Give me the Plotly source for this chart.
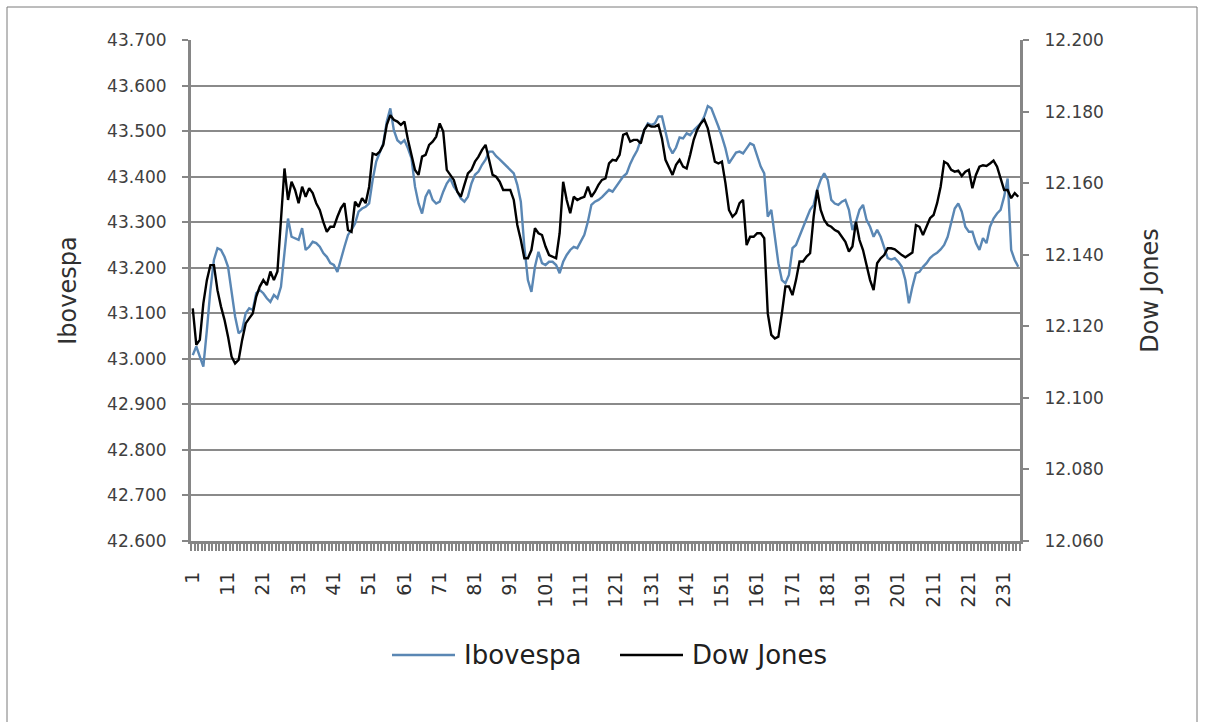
import plotly.graph_objects as go

# Trading days (categories)
days = list(range(1, 236))

x_tick_values = [1, 11, 21, 31, 41, 51, 61, 71, 81, 91, 101, 111, 121, 131, 141, 151,
                 161, 171, 181, 191, 201, 211, 221, 231]
x_tick_labels = ["1", "11", "21", "31", "41", "51", "61", "71", "81", "91", "101", "111",
                 "121", "131", "141", "151", "161", "171", "181", "191", "201", "211", "221", "231"]

ibovespa = [
    43008, 43027, 43005, 42983, 43063, 43151, 43217, 43243, 43239, 43224,
    43202, 43151, 43093, 43056, 43063, 43100, 43111, 43107, 43144, 43151,
    43144, 43133, 43125, 43140, 43133, 43158, 43239, 43308, 43268, 43265,
    43261, 43287, 43239, 43246, 43257, 43254, 43246, 43232, 43224, 43210,
    43206, 43191, 43221, 43246, 43272, 43283, 43297, 43323, 43330, 43334,
    43341, 43393, 43433, 43455, 43473, 43521, 43550, 43502, 43480, 43473,
    43480, 43462, 43440, 43378, 43341, 43319, 43356, 43371, 43349,
    43341, 43345, 43367, 43385, 43396, 43378, 43367, 43352, 43345, 43356,
    43385, 43404, 43411, 43426, 43437, 43455, 43455, 43445, 43438, 43431,
    43422, 43415, 43407, 43382, 43345, 43246, 43173, 43147, 43202, 43235,
    43210, 43206, 43213, 43213, 43206, 43188, 43213, 43228, 43239, 43246,
    43243, 43257, 43272, 43301, 43338, 43345, 43349, 43355, 43362, 43371,
    43367, 43378, 43391, 43400, 43407, 43428, 43444, 43458, 43480, 43502,
    43517, 43513, 43517, 43532, 43532, 43495, 43466, 43451, 43464, 43486,
    43484, 43495, 43491, 43502, 43510, 43517, 43532, 43555, 43550, 43532,
    43510, 43488, 43462, 43429, 43440, 43453, 43455, 43451, 43462, 43473,
    43469, 43444, 43422, 43407, 43312, 43327, 43268, 43210, 43173, 43166,
    43184, 43243, 43250, 43268, 43287, 43308, 43327, 43338, 43371, 43393,
    43407, 43393, 43349, 43341, 43338, 43345, 43349, 43327, 43283,
    43301, 43327, 43338, 43305, 43290, 43268, 43283, 43268, 43243, 43221,
    43218, 43221, 43213, 43202, 43173, 43122, 43158, 43188, 43191, 43202,
    43210, 43221, 43228, 43233, 43240, 43250, 43268, 43297, 43330, 43341,
    43323, 43290, 43279, 43279, 43254, 43239, 43265, 43254, 43290, 43308,
    43319, 43327, 43356, 43396, 43239, 43217, 43202,
]

dow_jones = [
    12125.0, 12114.8, 12116.2, 12126.4, 12132.9, 12137.1, 12137.1, 12130.1, 12125.5, 12121.8,
    12117.1, 12111.5, 12109.6, 12110.6, 12116.2, 12120.8, 12122.2, 12123.6, 12128.3, 12131.1,
    12132.9, 12131.5, 12135.3, 12132.9, 12135.3, 12148.8, 12164.1, 12155.3, 12160.4, 12158.1,
    12154.4, 12159.0, 12156.2, 12158.6, 12157.2, 12154.4, 12152.5, 12149.2, 12146.4, 12147.8,
    12147.8, 12150.6, 12153.0, 12154.4, 12146.9, 12146.4, 12154.8, 12153.4, 12155.8, 12154.4,
    12159.0, 12168.3, 12167.9, 12168.8, 12170.7, 12176.3, 12179.0, 12177.7, 12177.2, 12176.3,
    12177.2, 12172.1, 12167.4, 12163.7, 12162.3, 12167.4, 12167.9, 12170.7, 12171.6,
    12173.0, 12176.7, 12174.4, 12163.7, 12162.3, 12160.9, 12157.6, 12156.2, 12159.5, 12162.7,
    12163.7, 12166.0, 12167.4, 12169.3, 12170.7, 12166.5, 12162.3, 12161.8, 12160.4, 12158.1,
    12158.1, 12158.1, 12155.3, 12148.3, 12144.1, 12139.0, 12139.0, 12141.3, 12147.4, 12146.0,
    12145.5, 12142.3, 12139.9, 12139.5, 12139.0, 12146.0, 12160.4, 12155.3, 12151.6, 12156.2,
    12155.3, 12155.8, 12156.2, 12159.0, 12156.2, 12157.6, 12159.5, 12160.9, 12161.3, 12165.5,
    12166.5, 12166.3, 12167.9, 12173.5, 12173.9, 12171.6, 12172.1, 12172.1, 12171.1, 12174.9,
    12176.3, 12175.8, 12175.8, 12176.3, 12172.5, 12166.5, 12164.6, 12162.3, 12165.1, 12166.5,
    12164.6, 12164.1, 12167.9, 12172.1, 12174.9, 12176.7, 12177.8, 12175.3, 12170.7, 12166.0,
    12165.5, 12166.0, 12160.0, 12152.5, 12150.6, 12151.6, 12154.4, 12155.3, 12142.7, 12145.0,
    12145.0, 12146.0, 12146.0, 12144.6, 12123.6, 12117.6, 12116.6, 12117.1, 12123.6, 12131.1,
    12131.1, 12128.7, 12132.9, 12138.1, 12138.1, 12139.5, 12140.4, 12150.6, 12158.1, 12152.5,
    12149.7, 12148.3, 12147.8, 12146.9, 12146.4, 12145.0, 12143.6, 12140.9, 12142.3,
    12149.2, 12144.1, 12141.3, 12136.7, 12132.9, 12130.1, 12137.6, 12139.0, 12139.9, 12141.8,
    12141.8, 12141.5, 12140.6, 12139.9, 12139.3, 12139.9, 12140.6, 12148.3, 12147.8, 12145.5,
    12147.8, 12150.2, 12151.1, 12154.4, 12159.0, 12166.0, 12165.4, 12163.7, 12163.2, 12163.5,
    12162.0, 12163.2, 12163.7, 12158.6, 12162.3, 12164.6, 12165.0, 12164.8, 12165.5, 12166.3,
    12164.6, 12161.3, 12158.1, 12158.1, 12155.8, 12157.2, 12156.2,
]

series_names = ["Ibovespa", "Dow Jones"]
series_colors = ["#5A87B4", "#000000"]

FONT = "DejaVu Sans"
GRID = "#8a8a8a"
AXIS = "#868686"

fig = go.Figure()
fig.add_trace(go.Scatter(x=days, y=ibovespa, name=series_names[0], mode="lines",
                         line=dict(color=series_colors[0], width=2.4), yaxis="y"))
fig.add_trace(go.Scatter(x=days, y=dow_jones, name=series_names[1], mode="lines",
                         line=dict(color=series_colors[1], width=2.4), yaxis="y2"))

fig.update_layout(
    width=1205, height=722,
    margin=dict(l=191, r=185, t=40, b=181),
    paper_bgcolor="white", plot_bgcolor="white",
    separators=",.",
    showlegend=False,
    font=dict(family=FONT, color="#404040"),
    xaxis=dict(
        range=[0.5, 235.5], tickmode="array", tickvals=x_tick_values, ticktext=x_tick_labels,
        tickangle=-90, ticks="", showgrid=False, zeroline=False,
        showline=True, linecolor=AXIS, linewidth=3,
        tickfont=dict(family=FONT, size=19, color="#303030"),
        ticklabelstandoff=20,
        minor=dict(tickmode="linear", tick0=0.5, dtick=1, ticks="outside", ticklen=7,
                   tickcolor=AXIS, tickwidth=1.5, showgrid=False),
    ),
    yaxis=dict(
        range=[42600, 43700], tickmode="linear", tick0=42600, dtick=100, tickformat=",d",
        showgrid=True, gridcolor=GRID, gridwidth=2, zeroline=False,
        showline=True, linecolor=AXIS, linewidth=3,
        ticks="outside", ticklen=6, tickcolor=AXIS, tickwidth=1.5,
        tickfont=dict(family=FONT, size=17, color="#404040"),
        ticklabelstandoff=12,
        title=dict(text="Ibovespa", font=dict(family=FONT, size=24, color="#303030"), standoff=24),
    ),
    yaxis2=dict(
        range=[12060, 12200], tickmode="linear", tick0=12060, dtick=20, tickformat=",d",
        overlaying="y", side="right", showgrid=False, zeroline=False,
        showline=True, linecolor=AXIS, linewidth=3,
        ticks="outside", ticklen=6, tickcolor=AXIS, tickwidth=1.5,
        tickfont=dict(family=FONT, size=17, color="#404040"),
        ticklabelstandoff=12,
        title=dict(text="Dow Jones", font=dict(family=FONT, size=24, color="#303030"), standoff=39),
    ),
)

# outer chart frame
fig.add_shape(type="rect", xref="paper", yref="paper",
              x0=(7 - 191) / 829, x1=(1197 - 191) / 829, y0=(541 - 760) / 501, y1=(541 - 7) / 501,
              line=dict(color="#7a7a7a", width=1), fillcolor="rgba(0,0,0,0)")

# legend (line samples + labels) below the chart
legend_y = (541 - 655) / 501
legend_items = [(392, 455, 462), (620, 683, 690)]
for (lx0, lx1, tx), name, color in zip(legend_items, series_names, series_colors):
    fig.add_shape(type="line", xref="paper", yref="paper",
                  x0=(lx0 - 191) / 829, x1=(lx1 - 191) / 829, y0=legend_y, y1=legend_y,
                  line=dict(color=color, width=2.5))
    fig.add_annotation(xref="paper", yref="paper", x=(tx - 191) / 829, y=legend_y,
                       xanchor="left", yanchor="middle", text=name, showarrow=False,
                       font=dict(family=FONT, size=26, color="#202020"))

fig.write_html("out.html")
